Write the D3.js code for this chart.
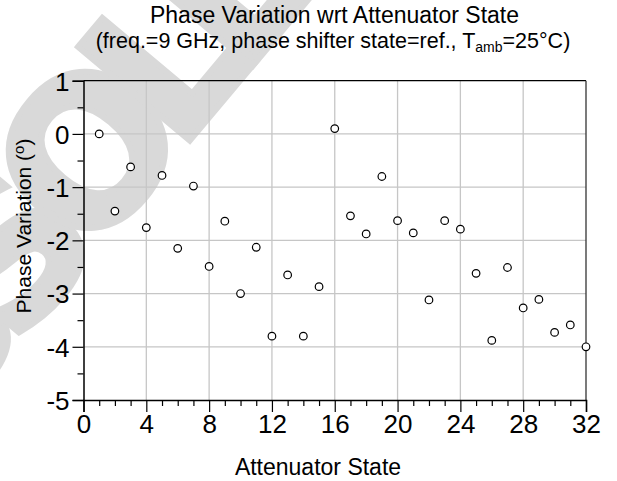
<!DOCTYPE html>
<html>
<head>
<meta charset="utf-8">
<script src="https://cdn.jsdelivr.net/npm/d3@7"></script>
<style>
  html, body { margin: 0; padding: 0; background: #ffffff; }
  svg { display: block; }
</style>
</head>
<body>
<svg id="chart" width="617" height="481"></svg>
<script>
// ---- data ----
const attenuatorStates = [1,2,3,4,5,6,7,8,9,10,11,12,13,14,15,16,17,18,19,20,21,22,23,24,25,26,27,28,29,30,31,32];
const phaseVariation = [0.0, -1.45, -0.62, -1.76, -0.78, -2.15, -0.98, -2.49, -1.64, -3.0, -2.13, -3.8, -2.65, -3.8, -2.87, 0.1,
                        -1.54, -1.88, -0.8, -1.63, -1.86, -3.12, -1.63, -1.79, -2.62, -3.88, -2.51, -3.27, -3.11, -3.73, -3.59, -4.0];
const xTicks = [0,4,8,12,16,20,24,28,32];
const xMinorTicks = [1,2,3,5,6,7,9,10,11,13,14,15,17,18,19,21,22,23,25,26,27,29,30,31];
const yTicks = [1,0,-1,-2,-3,-4,-5];
const yMinorTicks = [0.5,-0.5,-1.5,-2.5,-3.5,-4.5];
const titleText = "Phase Variation wrt Attenuator State";
const xTitle = "Attenuator State";
const watermarkText = "OBSOLETE";

(function () {
// ---- layout ----
const svg = d3.select("#chart");
const font = "'Liberation Sans', Arial, Helvetica, sans-serif";
const pL = 83.5, pR = 586, pT = 80.7, pB = 400;

const x = d3.scaleLinear().domain([0, 32]).range([pL, pR]);
const y = d3.scaleLinear().domain([-5, 1]).range([pB, pT]);

// watermark (light grey, rotated, behind the chart)
const wmSize = 200, wmAngle = -50;
const wm = svg.append("text")
  .text(watermarkText)
  .attr("font-family", "'DejaVu Sans', sans-serif")
  .attr("font-weight", "bold")
  .attr("font-size", wmSize)
  .attr("letter-spacing", -30)
  .attr("fill", "#d9d9d9")
  .attr("stroke", "#d9d9d9")
  .attr("stroke-width", 6)
  .attr("stroke-linejoin", "miter");
{
  const node = wm.node();
  const p = node.getStartPositionOfChar(4).x;
  const lx = p + 0.09 * wmSize - 3, ly = 3;
  const a = wmAngle * Math.PI / 180;
  const rx = lx * Math.cos(a) - ly * Math.sin(a);
  const ry = lx * Math.sin(a) + ly * Math.cos(a);
  const tx = 190 - rx, ty = 145 - ry;
  wm.attr("transform", `translate(${tx},${ty}) rotate(${wmAngle})`);
}

// gridlines
const grid = svg.append("g").attr("stroke", "#c6c6c6").attr("stroke-width", 1.3);
grid.selectAll("line.gx").data(xTicks.filter(d => d > 0 && d < 32)).join("line")
  .attr("x1", d => x(d)).attr("x2", d => x(d)).attr("y1", pT).attr("y2", pB);
grid.selectAll("line.gy").data(yTicks.filter(d => d > -5 && d < 1)).join("line")
  .attr("y1", d => y(d)).attr("y2", d => y(d)).attr("x1", pL).attr("x2", pR);

// frame (top, right)
svg.append("line").attr("x1", pL).attr("x2", pR).attr("y1", pT).attr("y2", pT)
  .attr("stroke", "#000").attr("stroke-width", 1.3);
svg.append("line").attr("x1", pR).attr("x2", pR).attr("y1", pT).attr("y2", pB)
  .attr("stroke", "#333").attr("stroke-width", 1.3);

// axes
const xAxis = svg.append("g").attr("transform", `translate(0,${pB})`)
  .call(d3.axisBottom(x).tickValues(xTicks).tickSize(12).tickPadding(3).tickFormat(d3.format("d")));
const xMinor = svg.append("g").attr("transform", `translate(0,${pB})`)
  .call(d3.axisBottom(x).tickValues(xMinorTicks).tickSize(6).tickFormat(""));
const yAxis = svg.append("g").attr("transform", `translate(${pL},0)`)
  .call(d3.axisLeft(y).tickValues(yTicks).tickSize(11).tickPadding(3).tickFormat(d3.format("d")));
const yMinor = svg.append("g").attr("transform", `translate(${pL},0)`)
  .call(d3.axisLeft(y).tickValues(yMinorTicks).tickSize(6).tickFormat(""));

[xAxis, xMinor, yAxis, yMinor].forEach(g => {
  g.select(".domain").attr("stroke", "#000").attr("stroke-width", 1.5);
  g.selectAll(".tick line").attr("stroke", "#000").attr("stroke-width", 1.2);
  g.selectAll(".tick text").attr("font-family", font).attr("font-size", 26).attr("fill", "#000");
});
xMinor.select(".domain").remove();
yMinor.select(".domain").remove();
yAxis.selectAll(".tick text").attr("dy", "0.36em");
xAxis.selectAll(".tick text").attr("dy", "0.71em");
yAxis.selectAll(".tick text").text(d => (d < 0 ? "-" + Math.abs(d) : String(d)));

// points
svg.append("g").selectAll("circle").data(attenuatorStates).join("circle")
  .attr("cx", (d) => x(d))
  .attr("cy", (d, i) => y(phaseVariation[i]))
  .attr("r", 3.8)
  .attr("fill", "#fff")
  .attr("stroke", "#000")
  .attr("stroke-width", 1.2);

// titles
svg.append("text").attr("x", 334.5).attr("y", 23).attr("text-anchor", "middle")
  .attr("font-family", font).attr("font-size", 23).attr("fill", "#000").text(titleText);

const sub = svg.append("text").attr("x", 333).attr("y", 47.5).attr("text-anchor", "middle")
  .attr("font-family", font).attr("font-size", 21.5).attr("fill", "#000");
sub.append("tspan").text("(freq.=9 GHz, phase shifter state=ref., T");
sub.append("tspan").attr("font-size", 14).attr("dy", 4).text("amb");
sub.append("tspan").attr("dy", -4).text("=25°C)");

svg.append("text").attr("x", 318).attr("y", 475).attr("text-anchor", "middle")
  .attr("font-family", font).attr("font-size", 23).attr("fill", "#000").text(xTitle);

const yl = svg.append("text").attr("transform", "translate(31,226) rotate(-90)").attr("text-anchor", "middle")
  .attr("font-family", font).attr("font-size", 21).attr("fill", "#000");
yl.append("tspan").text("Phase Variation (");
yl.append("tspan").attr("font-size", 15).attr("dy", -7).text("o");
yl.append("tspan").attr("dy", 7).text(")");
})();
</script>
</body>
</html>
